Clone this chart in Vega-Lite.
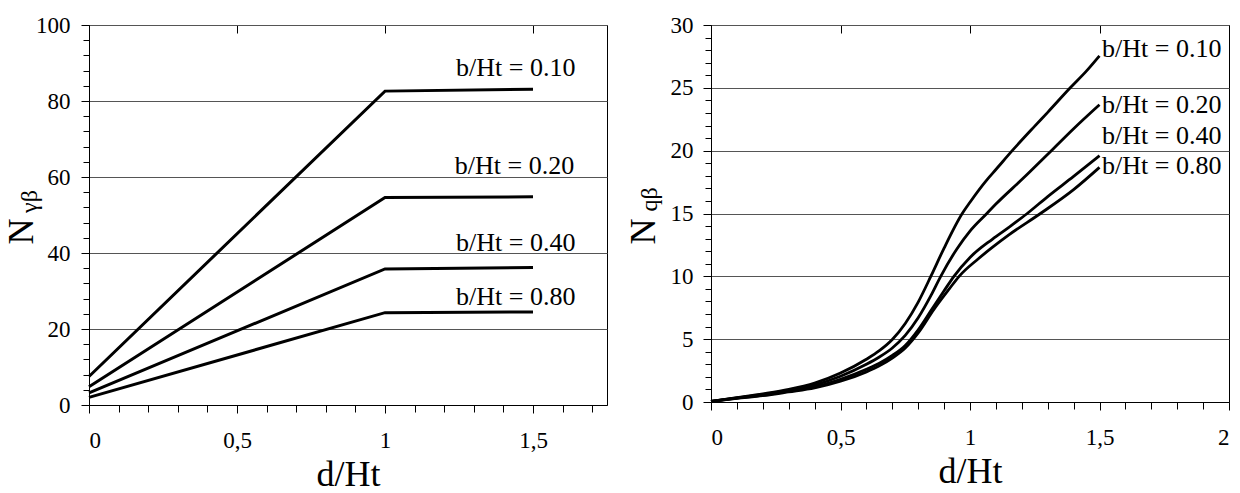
{
  "$schema": "https://vega.github.io/schema/vega-lite/v6.json",
  "padding": {"left": 2, "top": 13, "right": 0, "bottom": 0},
  "background": "white",
  "datasets": {
    "leftLines": [
      {"series": "0.10", "x": 0, "y": 7.5}, {"series": "0.10", "x": 1, "y": 82.6}, {"series": "0.10", "x": 1.5, "y": 83.1},
      {"series": "0.20", "x": 0, "y": 4.8}, {"series": "0.20", "x": 1, "y": 54.6}, {"series": "0.20", "x": 1.5, "y": 54.8},
      {"series": "0.40", "x": 0, "y": 3.2}, {"series": "0.40", "x": 1, "y": 35.8}, {"series": "0.40", "x": 1.5, "y": 36.2},
      {"series": "0.80", "x": 0, "y": 2.0}, {"series": "0.80", "x": 1, "y": 24.3}, {"series": "0.80", "x": 1.5, "y": 24.5}
    ],
    "leftLabels": [
      {"label": "b/Ht = 0.10", "x": 1.24, "y": 88.7},
      {"label": "b/Ht = 0.20", "x": 1.236, "y": 62.9},
      {"label": "b/Ht = 0.40", "x": 1.24, "y": 42.6},
      {"label": "b/Ht = 0.80", "x": 1.24, "y": 28.4}
    ],
    "rightLines": [
      {"series": "0.10", "x": 0, "y": 0.05}, {"series": "0.10", "x": 0.1, "y": 0.35}, {"series": "0.10", "x": 0.2, "y": 0.65},
      {"series": "0.10", "x": 0.3, "y": 1.0}, {"series": "0.10", "x": 0.4, "y": 1.5}, {"series": "0.10", "x": 0.5, "y": 2.3},
      {"series": "0.10", "x": 0.6, "y": 3.4}, {"series": "0.10", "x": 0.65, "y": 4.08}, {"series": "0.10", "x": 0.7, "y": 4.97},
      {"series": "0.10", "x": 0.75, "y": 6.25}, {"series": "0.10", "x": 0.8, "y": 7.95}, {"series": "0.10", "x": 0.85, "y": 10.05},
      {"series": "0.10", "x": 0.9, "y": 12.25}, {"series": "0.10", "x": 0.97, "y": 15.0}, {"series": "0.10", "x": 1.0, "y": 15.9},
      {"series": "0.10", "x": 1.066, "y": 17.7}, {"series": "0.10", "x": 1.1, "y": 18.5}, {"series": "0.10", "x": 1.163, "y": 20.0},
      {"series": "0.10", "x": 1.25, "y": 21.95}, {"series": "0.10", "x": 1.3, "y": 23.05}, {"series": "0.10", "x": 1.387, "y": 25.0},
      {"series": "0.10", "x": 1.45, "y": 26.35}, {"series": "0.10", "x": 1.5, "y": 27.55},
      {"series": "0.20", "x": 0, "y": 0.05}, {"series": "0.20", "x": 0.1, "y": 0.33}, {"series": "0.20", "x": 0.2, "y": 0.6},
      {"series": "0.20", "x": 0.3, "y": 0.92}, {"series": "0.20", "x": 0.4, "y": 1.35}, {"series": "0.20", "x": 0.5, "y": 2.05},
      {"series": "0.20", "x": 0.6, "y": 3.0}, {"series": "0.20", "x": 0.65, "y": 3.58}, {"series": "0.20", "x": 0.7, "y": 4.3},
      {"series": "0.20", "x": 0.75, "y": 5.3}, {"series": "0.20", "x": 0.8, "y": 6.7}, {"series": "0.20", "x": 0.85, "y": 8.5},
      {"series": "0.20", "x": 0.887, "y": 10.0}, {"series": "0.20", "x": 0.95, "y": 12.2}, {"series": "0.20", "x": 1.0, "y": 13.6},
      {"series": "0.20", "x": 1.065, "y": 15.0}, {"series": "0.20", "x": 1.1, "y": 15.75}, {"series": "0.20", "x": 1.2, "y": 17.7},
      {"series": "0.20", "x": 1.314, "y": 20.0}, {"series": "0.20", "x": 1.4, "y": 21.75}, {"series": "0.20", "x": 1.5, "y": 23.66},
      {"series": "0.40", "x": 0, "y": 0.05}, {"series": "0.40", "x": 0.1, "y": 0.3}, {"series": "0.40", "x": 0.2, "y": 0.55},
      {"series": "0.40", "x": 0.3, "y": 0.85}, {"series": "0.40", "x": 0.4, "y": 1.2}, {"series": "0.40", "x": 0.5, "y": 1.8},
      {"series": "0.40", "x": 0.6, "y": 2.6}, {"series": "0.40", "x": 0.65, "y": 3.08}, {"series": "0.40", "x": 0.7, "y": 3.7},
      {"series": "0.40", "x": 0.75, "y": 4.5}, {"series": "0.40", "x": 0.8, "y": 5.75}, {"series": "0.40", "x": 0.85, "y": 7.3},
      {"series": "0.40", "x": 0.9, "y": 8.85}, {"series": "0.40", "x": 0.938, "y": 10.0}, {"series": "0.40", "x": 1.0, "y": 11.5},
      {"series": "0.40", "x": 1.086, "y": 12.95}, {"series": "0.40", "x": 1.15, "y": 13.9}, {"series": "0.40", "x": 1.221, "y": 15.0},
      {"series": "0.40", "x": 1.3, "y": 16.35}, {"series": "0.40", "x": 1.4, "y": 17.95}, {"series": "0.40", "x": 1.5, "y": 19.6},
      {"series": "0.80", "x": 0, "y": 0.04}, {"series": "0.80", "x": 0.1, "y": 0.28}, {"series": "0.80", "x": 0.2, "y": 0.5},
      {"series": "0.80", "x": 0.3, "y": 0.8}, {"series": "0.80", "x": 0.4, "y": 1.12}, {"series": "0.80", "x": 0.5, "y": 1.65},
      {"series": "0.80", "x": 0.6, "y": 2.4}, {"series": "0.80", "x": 0.65, "y": 2.88}, {"series": "0.80", "x": 0.7, "y": 3.5},
      {"series": "0.80", "x": 0.75, "y": 4.3}, {"series": "0.80", "x": 0.8, "y": 5.5}, {"series": "0.80", "x": 0.86, "y": 7.35},
      {"series": "0.80", "x": 0.92, "y": 9.0}, {"series": "0.80", "x": 0.958, "y": 10.0}, {"series": "0.80", "x": 1.03, "y": 11.36},
      {"series": "0.80", "x": 1.086, "y": 12.3}, {"series": "0.80", "x": 1.15, "y": 13.3}, {"series": "0.80", "x": 1.272, "y": 15.0},
      {"series": "0.80", "x": 1.4, "y": 16.9}, {"series": "0.80", "x": 1.5, "y": 18.67}
    ],
    "rightLabels": [
      {"label": "b/Ht = 0.10", "x": 1.51, "y": 28.1},
      {"label": "b/Ht = 0.20", "x": 1.51, "y": 23.6},
      {"label": "b/Ht = 0.40", "x": 1.51, "y": 21.2},
      {"label": "b/Ht = 0.80", "x": 1.51, "y": 18.8}
    ]
  },
  "hconcat": [
    {
      "width": 518,
      "height": 380,
      "layer": [
        {
          "data": {"name": "leftLines"},
          "mark": {"type": "line", "color": "black", "strokeWidth": 3},
          "encoding": {
            "x": {
              "field": "x", "type": "quantitative",
              "scale": {"domain": [0, 1.75], "nice": false, "zero": false},
              "axis": {
                "orient": "bottom", "values": [0, 0.5, 1, 1.5],
                "labelExpr": "replace(toString(datum.value), '.', ',')",
                "labelFontSize": 23, "tickSize": 8, "labelPadding": 16,
                "title": "d/Ht", "titleFontSize": 36, "titleY": 80, "titleBaseline": "alphabetic",
                "grid": true, "gridDash": [8, 2000], "gridColor": "black", "gridWidth": 1, "gridOpacity": 1
              }
            },
            "y": {
              "field": "y", "type": "quantitative",
              "scale": {"domain": [0, 100], "nice": false},
              "axis": {
                "orient": "left", "values": [0, 20, 40, 60, 80, 100],
                "labelFontSize": 23, "tickSize": 8, "labelPadding": 11,
                "grid": true, "gridColor": "#555555", "gridWidth": 1, "gridOpacity": 1,
                "title": "N", "titleFontSize": 36, "titleX": -68, "titleY": 206,
                "titleAlign": "center", "titleBaseline": "middle", "titleAngle": 270
              }
            },
            "detail": {"field": "series"}
          }
        },
        {
          "data": {"name": "leftLabels"},
          "mark": {"type": "text", "align": "left", "baseline": "middle", "fontSize": 26, "font": "Liberation Serif", "color": "black"},
          "encoding": {
            "x": {
              "field": "x", "type": "quantitative",
              "scale": {"domain": [0, 1.75], "nice": false, "zero": false},
              "axis": {
                "orient": "bottom", "values": [0.1, 0.2, 0.3, 0.4, 0.6, 0.7, 0.8, 0.9, 1.1, 1.2, 1.3, 1.4, 1.6, 1.7],
                "labels": false, "domain": false, "tickSize": 7, "grid": false, "title": null
              }
            },
            "y": {
              "field": "y", "type": "quantitative",
              "scale": {"domain": [0, 100], "nice": false},
              "axis": {
                "orient": "left",
                "values": [4, 8, 12, 16, 24, 28, 32, 36, 44, 48, 52, 56, 64, 68, 72, 76, 84, 88, 92, 96],
                "labels": false, "domain": false, "tickSize": 6, "grid": false,
                "title": "γβ", "titleFontSize": 24, "titleX": -60, "titleY": 176,
                "titleAlign": "center", "titleBaseline": "middle", "titleAngle": 270
              }
            },
            "text": {"field": "label"}
          }
        }
      ],
      "resolve": {"axis": {"x": "independent", "y": "independent"}}
    },
    {
      "width": 518,
      "height": 377,
      "layer": [
        {
          "data": {"name": "rightLines"},
          "mark": {"type": "line", "color": "black", "strokeWidth": 2.8, "interpolate": "monotone"},
          "encoding": {
            "x": {
              "field": "x", "type": "quantitative",
              "scale": {"domain": [0, 2], "nice": false, "zero": false},
              "axis": {
                "orient": "bottom", "values": [0, 0.5, 1, 1.5, 2],
                "labelExpr": "replace(toString(datum.value), '.', ',')",
                "labelFontSize": 23, "tickSize": 8, "labelPadding": 16,
                "title": "d/Ht", "titleFontSize": 36, "titleY": 80, "titleBaseline": "alphabetic",
                "grid": true, "gridDash": [8, 2000], "gridColor": "black", "gridWidth": 1, "gridOpacity": 1
              }
            },
            "y": {
              "field": "y", "type": "quantitative",
              "scale": {"domain": [0, 30], "nice": false},
              "axis": {
                "orient": "left", "values": [0, 5, 10, 15, 20, 25, 30],
                "labelFontSize": 23, "tickSize": 8, "labelPadding": 10,
                "grid": true, "gridColor": "#555555", "gridWidth": 1, "gridOpacity": 1,
                "title": "N", "titleFontSize": 36, "titleX": -68, "titleY": 206,
                "titleAlign": "center", "titleBaseline": "middle", "titleAngle": 270
              }
            },
            "detail": {"field": "series"}
          }
        },
        {
          "data": {"name": "rightLabels"},
          "mark": {"type": "text", "align": "left", "baseline": "middle", "fontSize": 26, "font": "Liberation Serif", "color": "black"},
          "encoding": {
            "x": {
              "field": "x", "type": "quantitative",
              "scale": {"domain": [0, 2], "nice": false, "zero": false},
              "axis": {
                "orient": "bottom",
                "values": [0.1, 0.2, 0.3, 0.4, 0.6, 0.7, 0.8, 0.9, 1.1, 1.2, 1.3, 1.4, 1.6, 1.7, 1.8, 1.9],
                "labels": false, "domain": false, "tickSize": 7, "grid": false, "title": null
              }
            },
            "y": {
              "field": "y", "type": "quantitative",
              "scale": {"domain": [0, 30], "nice": false},
              "axis": {
                "orient": "left",
                "values": [1, 2, 3, 4, 6, 7, 8, 9, 11, 12, 13, 14, 16, 17, 18, 19, 21, 22, 23, 24, 26, 27, 28, 29],
                "labels": false, "domain": false, "tickSize": 6, "grid": false,
                "title": "qβ", "titleFontSize": 24, "titleX": -62, "titleY": 174,
                "titleAlign": "center", "titleBaseline": "middle", "titleAngle": 270
              }
            },
            "text": {"field": "label"}
          }
        }
      ],
      "resolve": {"axis": {"x": "independent", "y": "independent"}}
    }
  ],
  "spacing": 16,
  "config": {
    "view": {"stroke": "black", "strokeWidth": 1},
    "font": "Liberation Serif",
    "axis": {
      "labelFont": "Liberation Serif", "titleFont": "Liberation Serif",
      "labelColor": "black", "titleColor": "black",
      "domainColor": "black", "tickColor": "black", "domainWidth": 1, "tickWidth": 1,
      "titleFontWeight": "normal"
    }
  }
}
